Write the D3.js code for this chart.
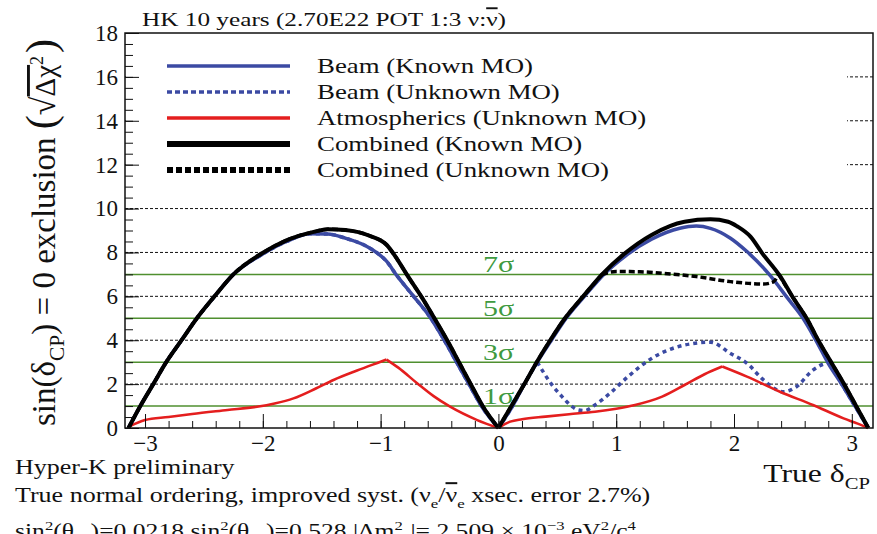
<!DOCTYPE html>
<html>
<head>
<meta charset="utf-8">
<script src="https://cdn.jsdelivr.net/npm/d3@7/dist/d3.min.js"></script>
<style>
  body { margin: 0; background: #fff; }
  svg text { font-family: "Liberation Serif", "Times New Roman", serif; fill: #111; }
</style>
</head>
<body>
<div id="chart"></div>
<script>
// true deltaCP vs sqrt(delta chi2)
const beamKnown = [
  [-3.14, 0], [-3.04, 1], [-2.93, 2], [-2.82, 3], [-2.69, 4], [-2.56, 5], [-2.41, 6], [-2.25, 7],
  [-2.01, 7.9], [-1.8, 8.5], [-1.6, 8.85], [-1.45, 8.84], [-1.3, 8.65], [-1.09, 8.19], [-0.95, 7.6],
  [-0.86, 6.93], [-0.72, 6.0], [-0.57, 4.97], [-0.46, 4.0], [-0.35, 2.95], [-0.25, 2.0], [-0.14, 0.97], [0, 0],
  [0.12, 1], [0.22, 2], [0.33, 3], [0.45, 4], [0.575, 5], [0.73, 6], [0.895, 7], [1.08, 7.85], [1.3, 8.6],
  [1.54, 9.1], [1.68, 9.2], [1.8, 9.1], [1.97, 8.65], [2.11, 8.04], [2.31, 6.93], [2.45, 5.95], [2.59, 4.97],
  [2.7, 3.95], [2.8, 2.95], [2.92, 1.95], [3.03, 0.97], [3.14, 0]
];

const beamUnknown = [
  [-3.14, 0], [-3.04, 1], [-2.93, 2], [-2.82, 3], [-2.69, 4], [-2.56, 5], [-2.41, 6], [-2.25, 7],
  [-2.01, 7.9], [-1.8, 8.5], [-1.6, 8.85], [-1.45, 8.84], [-1.3, 8.65], [-1.09, 8.19], [-0.95, 7.6],
  [-0.86, 6.93], [-0.72, 6.0], [-0.57, 4.97], [-0.46, 4.0], [-0.35, 2.95], [-0.25, 2.0], [-0.14, 0.97], [0, 0],
  [0.12, 1], [0.22, 2], [0.33, 3], [0.45, 2.0], [0.54, 1.43], [0.62, 1.0], [0.68, 0.82], [0.73, 0.79],
  [0.82, 1.05], [0.95, 1.6], [1.1, 2.34], [1.3, 3.17], [1.58, 3.78], [1.8, 3.91], [1.97, 3.4], [2.11, 2.95],
  [2.25, 2.19], [2.42, 1.65], [2.53, 1.88], [2.67, 2.64], [2.8, 2.95], [2.92, 1.95], [3.03, 0.97], [3.14, 0]
];

const atmUnknown = [
  [-3.14, 0.05], [-3.0, 0.36], [-2.8, 0.5], [-2.6, 0.64], [-2.3, 0.82], [-2.05, 0.97], [-1.9, 1.12],
  [-1.74, 1.35], [-1.55, 1.8], [-1.4, 2.19], [-1.2, 2.62], [-1.0, 3.02], [-0.95, 3.12], [-0.85, 2.75],
  [-0.69, 2.04], [-0.55, 1.45], [-0.41, 0.97], [-0.18, 0.36], [0, 0],
  [0.1, 0.29], [0.2, 0.4], [0.4, 0.52], [0.6, 0.63], [0.82, 0.74], [1.0, 0.88], [1.16, 1.05], [1.39, 1.43],
  [1.58, 1.96], [1.75, 2.45], [1.9, 2.8], [2.11, 2.34], [2.39, 1.65], [2.67, 1.05], [2.93, 0.44], [3.05, 0.2], [3.14, 0]
];

const combinedKnown = [
  [-3.14, 0], [-3.04, 1], [-2.93, 2], [-2.82, 3], [-2.69, 4], [-2.56, 5], [-2.41, 6], [-2.25, 7],
  [-2.01, 7.95], [-1.8, 8.55], [-1.56, 8.95], [-1.45, 9.06], [-1.3, 9.02], [-1.09, 8.75], [-0.95, 8.35],
  [-0.86, 7.7], [-0.77, 6.93], [-0.65, 5.95], [-0.54, 4.97], [-0.43, 3.95], [-0.33, 2.95], [-0.23, 1.95],
  [-0.13, 0.97], [0, 0],
  [0.11, 1], [0.22, 2], [0.325, 3], [0.44, 4], [0.565, 5], [0.72, 6], [0.88, 7], [1.06, 7.9], [1.3, 8.8],
  [1.58, 9.4], [1.8, 9.51], [1.95, 9.4], [2.03, 9.18], [2.14, 8.72], [2.24, 7.96], [2.39, 6.93], [2.5, 5.95],
  [2.62, 4.97], [2.72, 3.95], [2.83, 2.95], [2.94, 1.95], [3.04, 0.97], [3.14, 0]
];

const combinedUnknown = [
  [-3.14, 0], [-3.04, 1], [-2.93, 2], [-2.82, 3], [-2.69, 4], [-2.56, 5], [-2.41, 6], [-2.25, 7],
  [-2.01, 7.95], [-1.8, 8.55], [-1.56, 8.95], [-1.45, 9.06], [-1.3, 9.02], [-1.09, 8.75], [-0.95, 8.35],
  [-0.86, 7.7], [-0.77, 6.93], [-0.65, 5.95], [-0.54, 4.97], [-0.43, 3.95], [-0.33, 2.95], [-0.23, 1.95],
  [-0.13, 0.97], [0, 0],
  [0.11, 1], [0.22, 2], [0.325, 3], [0.44, 4], [0.565, 5], [0.72, 6], [0.88, 7], [1.0, 7.13], [1.2, 7.12],
  [1.4, 7.05], [1.68, 6.9], [1.97, 6.67], [2.25, 6.56], [2.33, 6.65], [2.38, 7.0], [2.5, 5.95],
  [2.62, 4.97], [2.72, 3.95], [2.83, 2.95], [2.94, 1.95], [3.04, 0.97], [3.14, 0]
];

// x positions where a curve has a sharp corner
const beamKnownKinks = [0];
const beamUnknownKinks = [0, 0.33];
const atmKinks = [-0.95, 0, 1.9];
const combinedKnownKinks = [0];
const combinedUnknownKinks = [0, 0.88, 2.38];

const xMajorTicks = [-3, -2, -1, 0, 1, 2, 3];
const yMajorTicks = [0, 2, 4, 6, 8, 10, 12, 14, 16, 18];
const dashedLevels = [2, 4, 6, 8, 10, 12, 14, 16];
const sigmaLevels = [1, 3, 5, 7];
const sigmaLabels = ['1σ', '3σ', '5σ', '7σ'];

const legendLabels = [
  'Beam (Known MO)',
  'Beam (Unknown MO)',
  'Atmospherics (Unknown MO)',
  'Combined (Known MO)',
  'Combined (Unknown MO)'
];

const BLUE = '#3b4aa3';
const RED = '#e41e1e';
const GREEN = '#4f8f2f';

const width = 877, height = 534;
const frame = { left: 125, right: 873, top: 33, bottom: 428 };

const svg = d3.select('#chart').append('svg')
  .attr('width', width)
  .attr('height', height);

svg.append('rect').attr('width', width).attr('height', height).attr('fill', '#fff');

const x = d3.scaleLinear().domain([-3.17, 3.18]).range([frame.left, frame.right]);
const y = d3.scaleLinear().domain([0, 18]).range([frame.bottom, frame.top]);

// the original scan is a bit wider than tall, so text gets a horizontal stretch
function wideText(px, py, size, sx, anchor) {
  const t = svg.append('text')
    .attr('transform', `translate(${px},${py}) scale(${sx},1)`)
    .style('font-size', size + 'px');
  if (anchor) t.attr('text-anchor', anchor);
  return t;
}

// small helper for sub/superscripts and overlines inside one text
function rich(sel, parts, size) {
  let shift = 0;
  parts.forEach(([t, kind, dx]) => {
    const target = kind === 'sub' ? size * 0.28 : kind === 'sup' ? -size * 0.4 : 0;
    const ts = sel.append('tspan').attr('dy', target - shift).text(t);
    if (dx) ts.attr('dx', dx);
    if (kind === 'sub' || kind === 'sup') ts.style('font-size', (size * 0.65) + 'px');
    if (kind === 'over') ts.attr('text-decoration', 'overline');
    shift = target;
  });
  return sel;
}

// dashed grid at even values
svg.append('g')
  .selectAll('line')
  .data(dashedLevels)
  .join('line')
  .attr('x1', frame.left).attr('x2', frame.right)
  .attr('y1', d => y(d)).attr('y2', d => y(d))
  .attr('stroke', '#111')
  .attr('stroke-width', 1)
  .attr('stroke-dasharray', '3,2');

// sigma lines
svg.append('g')
  .selectAll('line')
  .data(sigmaLevels)
  .join('line')
  .attr('x1', frame.left).attr('x2', frame.right)
  .attr('y1', d => y(d)).attr('y2', d => y(d))
  .attr('stroke', GREEN)
  .attr('stroke-width', 1.5);

sigmaLevels.forEach((d, i) => {
  wideText(x(-0.13), y(d) - 2, 24, 1.25)
    .style('fill', '#3f9a3f')
    .text(sigmaLabels[i]);
});

// legend box hides the grid behind it
svg.append('rect')
  .attr('x', frame.left + 1).attr('y', 40)
  .attr('width', 847 - frame.left - 1).attr('height', 152)
  .attr('fill', '#fff');

// curves
function drawSeries(data, kinks, style) {
  const cuts = [-Infinity, ...kinks, Infinity];
  const line = d3.line()
    .x(d => x(d[0]))
    .y(d => y(d[1]))
    .curve(d3.curveMonotoneX);
  for (let i = 0; i < cuts.length - 1; i++) {
    const part = data.filter(d => d[0] >= cuts[i] && d[0] <= cuts[i + 1]);
    if (part.length < 2) continue;
    svg.append('path')
      .datum(part)
      .attr('fill', 'none')
      .attr('stroke', style.color)
      .attr('stroke-width', style.width)
      .attr('stroke-dasharray', style.dash || null)
      .attr('stroke-linejoin', 'round')
      .attr('d', line);
  }
}

const seriesStyles = [
  { color: BLUE, width: 3.5 },
  { color: BLUE, width: 3.5, dash: '4,4' },
  { color: RED, width: 2.6 },
  { color: '#000', width: 4 },
  { color: '#000', width: 3.5, dash: '6,3' }
];

drawSeries(beamKnown, beamKnownKinks, seriesStyles[0]);
drawSeries(beamUnknown, beamUnknownKinks, seriesStyles[1]);
drawSeries(atmUnknown, atmKinks, seriesStyles[2]);
drawSeries(combinedKnown, combinedKnownKinks, seriesStyles[3]);
drawSeries(combinedUnknown, combinedUnknownKinks, seriesStyles[4]);

// legend
const legendStyles = [
  { color: BLUE, width: 3.5 },
  { color: BLUE, width: 3.5, dash: '5,3' },
  { color: RED, width: 3.5 },
  { color: '#000', width: 6 },
  { color: '#000', width: 6, dash: '6,3' }
];
legendLabels.forEach((label, i) => {
  const ly = 66 + i * 26;
  svg.append('line')
    .attr('x1', 167).attr('x2', 290)
    .attr('y1', ly).attr('y2', ly)
    .attr('stroke', legendStyles[i].color)
    .attr('stroke-width', legendStyles[i].width)
    .attr('stroke-dasharray', legendStyles[i].dash || null);
  wideText(317, ly + 7, 22, 1.22).text(label);
});

// axes
const xAxis = svg.append('g')
  .attr('transform', `translate(0,${frame.bottom})`)
  .call(d3.axisBottom(x).tickValues(xMajorTicks).tickFormat(d3.format('d'))
    .tickSizeInner(-14).tickSizeOuter(0).tickPadding(7));
xAxis.select('.domain').remove();
xAxis.selectAll('text').style('font-size', '23px').attr('fill', '#111');
xAxis.selectAll('line').attr('stroke', '#111');

const xMinor = svg.append('g')
  .attr('transform', `translate(0,${frame.bottom})`)
  .call(d3.axisBottom(x).ticks(32).tickSizeInner(-7).tickSizeOuter(0));
xMinor.select('.domain').remove();
xMinor.selectAll('text').remove();
xMinor.selectAll('line').attr('stroke', '#111');

const yAxis = svg.append('g')
  .attr('transform', `translate(${frame.left},0)`)
  .call(d3.axisLeft(y).tickValues(yMajorTicks)
    .tickSizeInner(-14).tickSizeOuter(0).tickPadding(7));
yAxis.select('.domain').remove();
yAxis.selectAll('text').style('font-size', '23px').attr('fill', '#111');
yAxis.selectAll('line').attr('stroke', '#111');

const yMinor = svg.append('g')
  .attr('transform', `translate(${frame.left},0)`)
  .call(d3.axisLeft(y).ticks(36).tickSizeInner(-8).tickSizeOuter(0));
yMinor.select('.domain').remove();
yMinor.selectAll('text').remove();
yMinor.selectAll('line').attr('stroke', '#111');

// frame
svg.append('rect')
  .attr('x', frame.left).attr('y', frame.top)
  .attr('width', frame.right - frame.left).attr('height', frame.bottom - frame.top)
  .attr('fill', 'none').attr('stroke', '#111').attr('stroke-width', 1.5);

// title
rich(wideText(142, 26, 19, 1.33),
  [['HK 10 years (2.70E22 POT 1:3 ν:'], ['ν', 'over'], [')']], 19);

// y axis title
const yTitle = svg.append('text')
  .attr('transform', 'translate(55,426) rotate(-90)')
  .style('font-size', '33px');
rich(yTitle, [['sin(δ'], ['CP', 'sub'], [') = 0 exclusion ']], 33);
yTitle.append('tspan').style('font-size', '42px').text('(');
yTitle.append('tspan').style('font-size', '34px').text('√');
yTitle.append('tspan').attr('text-decoration', 'overline').style('font-size', '29px').text('Δχ');
yTitle.append('tspan').attr('dy', -12).style('font-size', '18px').text('2');
yTitle.append('tspan').attr('dy', 12).attr('dx', 3).style('font-size', '42px').text(')');

// x axis title
rich(wideText(870, 482, 26, 1.22, 'end'), [['True δ'], ['CP', 'sub']], 26);

// footnotes
wideText(15, 474, 20, 1.3).text('Hyper-K preliminary');

rich(wideText(15, 502, 20, 1.3),
  [['True normal ordering, improved syst. (ν'], ['e', 'sub'], ['/'], ['ν', 'over'], ['e', 'sub'],
   [' xsec. error 2.7%)']], 20);

rich(wideText(15, 538, 20, 1.28),
  [['sin'], ['2', 'sup'], ['(θ'], ['13', 'sub'], [')=0.0218 sin'], ['2', 'sup'], ['(θ'], ['23', 'sub'],
   [')=0.528 |Δm'], ['2', 'sup'], ['32', 'sub', -7], ['|= 2.509 × 10'], ['−3', 'sup'], [' eV'], ['2', 'sup'],
   ['/c'], ['4', 'sup']], 20);
</script>
</body>
</html>
